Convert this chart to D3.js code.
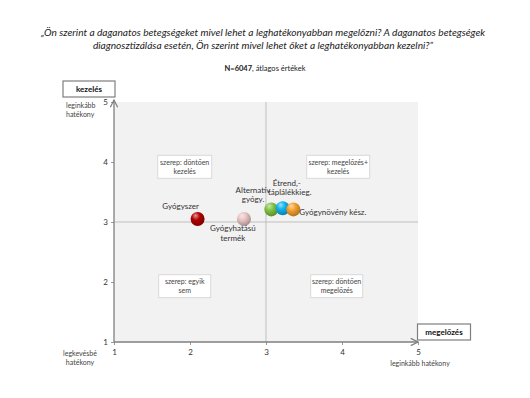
<!DOCTYPE html>
<html><head><meta charset="utf-8">
<script src="https://cdn.jsdelivr.net/npm/d3@7"></script>
<style>body{margin:0;background:#fff}svg{display:block;font-family:Lato,"Open Sans",sans-serif}</style>
</head><body><svg id="c" width="530" height="398"></svg>
<script>
const names = ["Gyógyszer","Gyógyhatású termék","Alternatív gyógy.","Étrend,-táplálékkieg.","Gyógynövény kész."];
const prevention = [2.1, 2.71, 3.07, 3.22, 3.36];
const treatment = [3.05, 3.05, 3.21, 3.23, 3.21];
const colors = ["#b00000","#e8c4c4","#7fc241","#12b2ec","#f5a02e"];
const xTicks = [1,2,3,4,5];
const yTicks = [1,2,3,4,5];
const titleLines = ["„Ön szerint a daganatos betegségeket mivel lehet a leghatékonyabban megelőzni? A daganatos betegségek","diagnosztizálása esetén, Ön szerint mivel lehet őket a leghatékonyabban kezelni?”"];
const quadrants = [["szerep: döntően","kezelés"],["szerep: megelőzés+","kezelés"],["szerep: egyik","sem"],["szerep: döntően","megelőzés"]];
const quadPos = [[1.93,3.92],[3.95,3.92],[1.93,1.93],[3.93,1.93]];

const svg = d3.select("#c");
const x = d3.scaleLinear().domain([1,5]).range([114,418]);
const y = d3.scaleLinear().domain([1,5]).range([342,102]);

function fit(sel, w){ const n=sel.node(); const l=n.getComputedTextLength(); const fs=parseFloat(sel.attr("font-size")); sel.attr("font-size", fs*w/l); }

// Title
const t1 = svg.append("text").attr("x",263).attr("y",36).attr("text-anchor","middle").attr("font-size",10).attr("font-style","italic").attr("fill","#222").text(titleLines[0]);
fit(t1,445);
const t2 = svg.append("text").attr("x",263).attr("y",49).attr("text-anchor","middle").attr("font-size",t1.attr("font-size")).attr("font-style","italic").attr("fill","#222").text(titleLines[1]);
const sub = svg.append("text").attr("x",265).attr("y",71).attr("text-anchor","middle").attr("font-size",7.5).attr("fill","#222");
sub.append("tspan").attr("font-weight","bold").text("N=6047");
sub.append("tspan").text(", átlagos értékek");

// defs
const defs = svg.append("defs");
colors.forEach((c,i)=>{
  const g = defs.append("radialGradient").attr("id","g"+i).attr("cx","40%").attr("cy","35%").attr("r","65%").attr("fx","35%").attr("fy","25%");
  g.append("stop").attr("offset","0%").attr("stop-color",d3.interpolateRgb(c,"#fff")(0.6));
  g.append("stop").attr("offset","45%").attr("stop-color",c);
  g.append("stop").attr("offset","100%").attr("stop-color",d3.color(c).darker(0.9));
});
defs.append("marker").attr("id","arr").attr("viewBox","0 0 10 10").attr("refX",9).attr("refY",5).attr("markerWidth",7).attr("markerHeight",7).attr("orient","auto")
  .append("path").attr("d","M1,1 L9,5 L1,9").attr("fill","none").attr("stroke","#7f7f7f").attr("stroke-width",1.3);

// plot bg
svg.append("rect").attr("x",x(1)).attr("y",y(5)).attr("width",x(5)-x(1)).attr("height",y(1)-y(5)).attr("fill","#f2f2f2");
// crosshair
svg.append("line").attr("x1",x(3)).attr("x2",x(3)).attr("y1",y(5)).attr("y2",y(1)).attr("stroke","#bfbfbf");
svg.append("line").attr("x1",x(1)).attr("x2",x(5)).attr("y1",y(3)).attr("y2",y(3)).attr("stroke","#bfbfbf");

// axes
const xa = svg.append("g").attr("transform",`translate(0,${y(1)})`).call(d3.axisBottom(x).tickValues(xTicks).tickSize(3).tickFormat(d3.format("d")));
const ya = svg.append("g").attr("transform",`translate(${x(1)},0)`).call(d3.axisLeft(y).tickValues(yTicks).tickSize(3).tickFormat(d3.format("d")));
[xa,ya].forEach(a=>{a.select(".domain").remove();a.selectAll("line").attr("stroke","#999");a.selectAll("text").attr("font-size",8).attr("fill","#333").attr("font-family","Lato");});
xa.selectAll("text").attr("dy","0.9em");
svg.append("line").attr("x1",x(1)).attr("x2",x(5)).attr("y1",y(1)).attr("y2",y(1)).attr("stroke","#7f7f7f").attr("stroke-width",1.3).attr("marker-end","url(#arr)");
svg.append("line").attr("x1",x(1)).attr("x2",x(1)).attr("y1",y(1)).attr("y2",y(5)-2).attr("stroke","#7f7f7f").attr("stroke-width",1.3).attr("marker-end","url(#arr)");

// quadrant boxes
quadrants.forEach((q,i)=>{
  const cx=x(quadPos[i][0]), cy=y(quadPos[i][1]);
  const w = i===1?63:(i===0?54:52), h=23;
  svg.append("rect").attr("x",cx-w/2).attr("y",cy-h/2).attr("width",w).attr("height",h).attr("fill","#fff").attr("stroke","#d9d9d9");
  q.forEach((s,j)=>svg.append("text").attr("x",cx).attr("y",cy-2+j*9).attr("text-anchor","middle").attr("font-size",7).attr("fill","#444").text(s));
});

// axis name boxes
function nameBox(cx,cy,w,h,label){
  svg.append("rect").attr("x",cx-w/2).attr("y",cy-h/2).attr("width",w).attr("height",h).attr("fill","#fff").attr("stroke","#7f7f7f").attr("stroke-width",1.2);
  svg.append("text").attr("x",cx).attr("y",cy+3).attr("text-anchor","middle").attr("font-size",8).attr("font-weight","bold").attr("fill","#111").text(label);
}
nameBox(89,89,52,16,"kezelés");
nameBox(444,332,53,16,"megelőzés");

function small(xp,yp,anchor,s){svg.append("text").attr("x",xp).attr("y",yp).attr("text-anchor",anchor).attr("font-size",7).attr("fill","#444").text(s);}
small(66,108,"start","leginkább");
small(66,117,"start","hatékony");
small(80,356,"middle","legkevésbé");
small(80,365,"middle","hatékony");
small(420,366,"middle","leginkább hatékony");

// points
svg.append("g").selectAll("circle").data(names).join("circle")
  .attr("cx",(d,i)=>x(prevention[i])).attr("cy",(d,i)=>y(treatment[i])).attr("r",7)
  .attr("fill",(d,i)=>`url(#g${i})`);

// labels
const lab = [
  [[-17,-10,"middle","Gyógyszer"]],
  [[-11,12,"middle","Gyógyhatású"],[-11,22,"middle","termék"]],
  [[-1,-16,"end","Alternatív"],[-7,-7,"end","gyógy."]],
  [[4,-22,"middle","Étrend,-"],[7,-13,"middle","táplálékkieg."]],
  [[6,6,"start","Gyógynövény kész."]]
];
lab.forEach((ls,i)=>ls.forEach(l=>{
  svg.append("text").attr("x",x(prevention[i])+l[0]).attr("y",y(treatment[i])+l[1]).attr("text-anchor",l[2]).attr("font-size",8).attr("fill","#333").text(l[3]);
}));
</script></body></html>
